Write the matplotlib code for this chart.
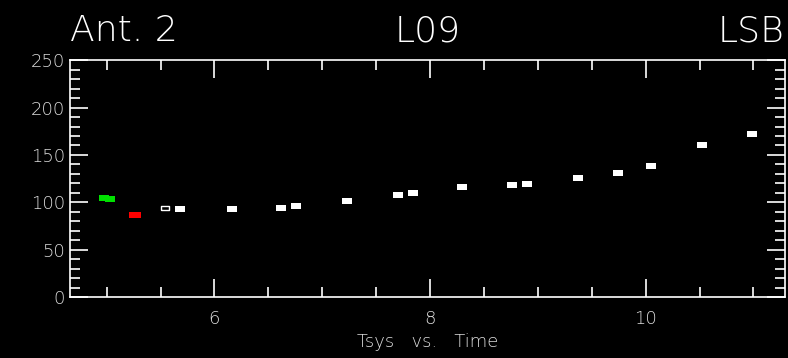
import numpy as np
import matplotlib
matplotlib.use('Agg')
from matplotlib import pyplot as plt
from matplotlib.ticker import MultipleLocator

# Tsys vs time
green_t = [4.98, 5.03]
green_tsys = [104.5, 103.0]
red_t = [5.26]
red_tsys = [86.5]
hollow_t = [5.54]
hollow_tsys = [94.0]
white_t = [5.68, 6.16, 6.62, 6.76, 7.23, 7.70, 7.84, 8.30, 8.76, 8.90,
           9.37, 9.74, 10.05, 10.52, 10.99]
white_tsys = [93.0, 93.0, 94.5, 96.0, 101.0, 107.5, 109.5, 116.0, 118.0, 119.0,
              125.5, 131.0, 138.0, 161.0, 172.0]

# small flat rectangle marker
rect = [(-1, -0.6), (1, -0.6), (1, 0.6), (-1, 0.6), (-1, -0.6)]

plt.rcParams['font.family'] = ['DejaVu Sans']
fig = plt.figure(figsize=(7.88, 3.58), dpi=100, facecolor='black')
ax = fig.add_axes([0.0888, 0.170, 0.907, 0.662], facecolor='black')

ax.scatter(green_t, green_tsys, marker=rect, s=45, color='#00e000', lw=0)
ax.scatter(red_t, red_tsys, marker=rect, s=70, color='#ff0000', lw=0)
ax.scatter(hollow_t, hollow_tsys, marker=rect, s=30, facecolor='none',
           edgecolor='white', lw=1)
ax.scatter(white_t, white_tsys, marker=rect, s=50, color='white', lw=0)

ax.set_xlim(4.66, 11.29)
ax.set_ylim(0, 250)
ax.xaxis.set_major_locator(MultipleLocator(2))
ax.xaxis.set_minor_locator(MultipleLocator(0.5))
ax.yaxis.set_major_locator(MultipleLocator(50))
ax.yaxis.set_minor_locator(MultipleLocator(10))

for s in ax.spines.values():
    s.set_color('white')
    s.set_linewidth(1.2)
ax.tick_params(which='both', direction='in', colors='white', top=True, right=True,
               labelsize=13, labelcolor='#dddddd')
ax.tick_params(which='major', length=13, width=1.2)
ax.tick_params(which='minor', length=7, width=1.2)
ax.tick_params(axis='x', pad=9)
for lab in ax.get_xticklabels() + ax.get_yticklabels():
    lab.set_fontweight('light')

ax.set_xlabel('Tsys   vs.   Time', color='#dddddd', fontsize=13, labelpad=4,
              fontweight='light')

fig.text(0.089, 0.885, 'Ant. 2', color='white', fontsize=26, fontweight='light')
fig.text(0.543, 0.885, 'L09', color='white', fontsize=26, ha='center',
         fontweight='light')
fig.text(0.996, 0.885, 'LSB', color='white', fontsize=26, ha='right',
         fontweight='light')

fig.savefig('out.png', dpi=100, facecolor='black')
